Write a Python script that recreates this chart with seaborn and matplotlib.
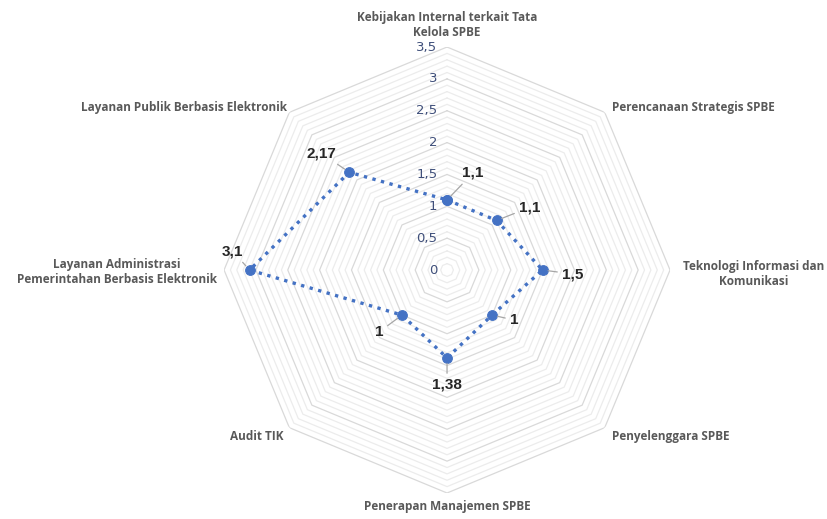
import numpy as np
import matplotlib
matplotlib.use("Agg")
import matplotlib.pyplot as plt
import seaborn as sns

categories = [
    "Kebijakan Internal terkait Tata\nKelola SPBE",
    "Perencanaan Strategis SPBE",
    "Teknologi Informasi dan\nKomunikasi",
    "Penyelenggara SPBE",
    "Penerapan Manajemen SPBE",
    "Audit TIK",
    "Layanan Administrasi\nPemerintahan Berbasis Elektronik",
    "Layanan Publik Berbasis Elektronik",
]
values = [1.1, 1.1, 1.5, 1.0, 1.38, 1.0, 3.1, 2.17]
ticks = [0, 0.5, 1, 1.5, 2, 2.5, 3, 3.5]

# posisi label kategori (offset dalam px dari titik sudut luar)
cat_offsets = [(0, 22), (7, 5), (13, -4), (7, -9), (0, -14), (-6, -9), (-7, -2), (-2, 5)]
cat_align = [("center", "center"), ("left", "center"), ("left", "center"), ("left", "center"),
             ("center", "center"), ("right", "center"), ("right", "center"), ("right", "center")]
# posisi label nilai (offset dalam px dari titik data)
val_offsets = [(26, 27), (33, 13), (30, -4), (22, -5), (0, -27), (-23, -17), (-17, 19), (-28, 19)]

sns.set_style("white")
plt.rcParams["font.family"] = ["DejaVu Sans"]

fig = plt.figure(figsize=(8.27, 5.19), dpi=100)
ax = fig.add_axes([0.2709, 0.0501, 0.5393, 0.8593], projection="polar")
ax.set_theta_offset(np.pi / 2)
ax.set_theta_direction(-1)
ax.set_ylim(0, 3.5)
ax.grid(False)
ax.set_xticks([])
ax.set_yticks([])
ax.spines["polar"].set_visible(False)
ax.set_facecolor("none")

n = len(categories)
theta = np.arange(n) * 2 * np.pi / n
theta_closed = np.append(theta, 2 * np.pi)

# grid segi delapan
for i in range(1, 36):
    r = i / 10
    major = i % 5 == 0
    ax.plot(theta_closed, [r] * (n + 1), color="#d9d9d9" if major else "#ececec",
            lw=0.9, zorder=1)

# tick label sumbu
for t in ticks:
    ax.annotate(f"{t:g}".replace(".", ","), xy=(0, t), xytext=(-7, 0),
                textcoords="offset points", ha="right", va="center",
                fontsize=9.5, color="#3f4f7a", family=["Liberation Sans Narrow", "DejaVu Sans"])

# data
sns.lineplot(x=theta_closed, y=values + values[:1], ax=ax, sort=False, estimator=None,
             color="#4472C4", linestyle=":", lw=2.4, marker="o", markersize=7,
             markeredgecolor="#4472C4", zorder=3)

for th, v, (dx, dy) in zip(theta, values, val_offsets):
    ax.annotate(f"{v:g}".replace(".", ","), xy=(th, v),
                xytext=(dx * 0.72, dy * 0.72), textcoords="offset points",
                ha="center", va="center", fontsize=11, fontweight="bold",
                color="#262626", family=["Liberation Sans", "DejaVu Sans"],
                arrowprops=dict(arrowstyle="-", color="#a6a6a6", lw=0.9,
                                shrinkA=1, shrinkB=4))

for th, lab, (dx, dy), (ha, va) in zip(theta, categories, cat_offsets, cat_align):
    ax.annotate(lab, xy=(th, 3.5), xytext=(dx * 0.72, dy * 0.72),
                textcoords="offset points", ha=ha, va=va, multialignment="center",
                fontsize=8.5, fontweight="bold", color="#595959",
                family=["Open Sans", "DejaVu Sans"], linespacing=1.2)

fig.savefig("out.png", dpi=100, facecolor="white")
